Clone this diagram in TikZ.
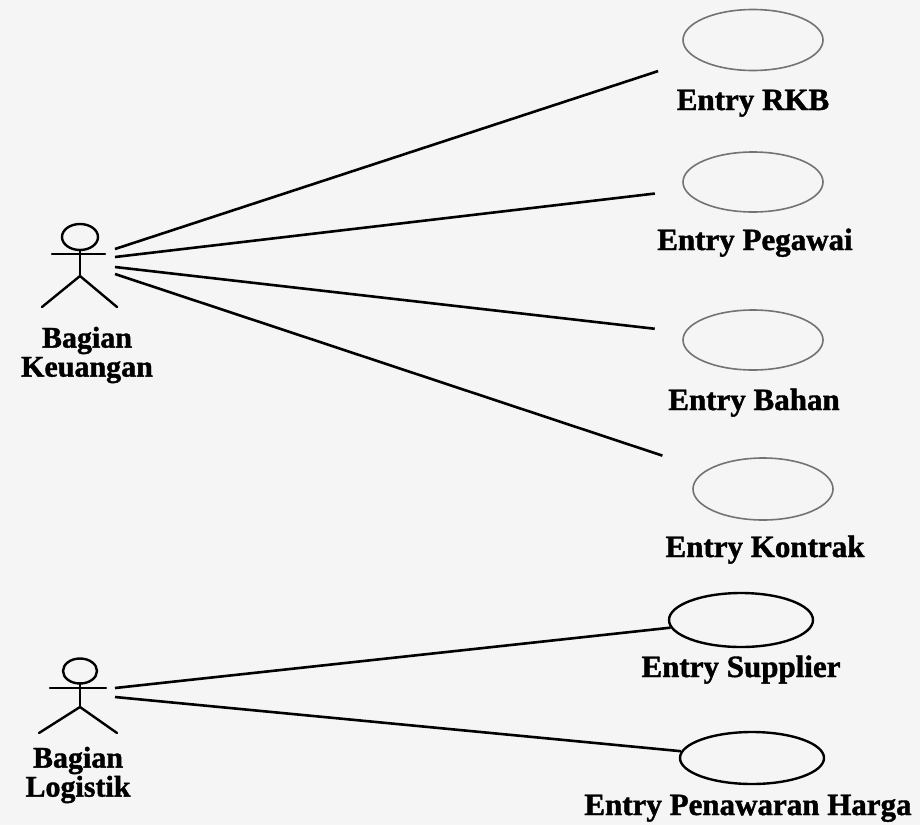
\documentclass[tikz,border=0pt]{standalone}
\usepackage{fontspec}
\setmainfont{Liberation Serif}[BoldFeatures={FakeBold=1.3}]
\usetikzlibrary{shapes.geometric}
\begin{document}
\begin{tikzpicture}[x=1pt,y=-1pt,
  usecase/.style={ellipse, draw=black!55, line width=1.6pt, minimum width=140pt,
    minimum height=60pt, inner sep=0pt},
  usecasedark/.style={usecase, draw=black, line width=2.4pt},
  uclabel/.style={font=\fontsize{31}{34}\selectfont\bfseries, anchor=base, inner sep=0pt},
  actorlabel/.style={font=\fontsize{30}{29}\selectfont\bfseries, align=center, inner sep=0pt},
  stick/.style={line width=2.4pt, line cap=round},
  assoc/.style={line width=2.6pt},
]
\fill[black!4] (0,0) rectangle (920,825);
\useasboundingbox (0,0) rectangle (920,825);

% actor: Bagian Keuangan
\draw[stick] (80,237) ellipse [x radius=18pt, y radius=13pt];
\draw[stick] (52,254) -- (105,254);
\draw[stick] (80,250) -- (80,276);
\draw[stick] (42,307) -- (80,276) -- (117,307);
\node[actorlabel] (keu) at (87,355) {Bagian\\Keuangan};
\coordinate (kr1) at (115,249);
\coordinate (kr2) at (115,257);
\coordinate (kr3) at (115,267);
\coordinate (kr4) at (115,274);

% actor: Bagian Logistik
\draw[stick] (80,671) ellipse [x radius=17pt, y radius=12.5pt];
\draw[stick] (50,688) -- (106,688);
\draw[stick] (80,683) -- (80,707);
\draw[stick] (39,733) -- (80,707) -- (117,733);
\node[actorlabel] (log) at (78,775) {Bagian\\Logistik};
\coordinate (lg1) at (115,688);
\coordinate (lg2) at (115,697);

% use cases
\node[usecase, minimum height=61pt] (rkb) at (753,40) {};
\node[uclabel] (rkbl) at (753,110) {Entry RKB};
\node[usecase] (peg) at (753,182) {};
\node[uclabel] (pegl) at (755,250) {Entry Pegawai};
\node[usecase] (bah) at (753,340) {};
\node[uclabel] (bahl) at (754,410) {Entry Bahan};
\node[usecase, minimum height=62pt] (kon) at (763,489) {};
\node[uclabel] (konl) at (765,557) {Entry Kontrak};
\node[usecasedark, minimum width=144pt, minimum height=54pt] (sup) at (741,620) {};
\node[uclabel] (supl) at (741,677) {Entry Supplier};
\node[usecasedark, minimum width=144pt, minimum height=52pt] (pen) at (752,758) {};
\node[uclabel] (penl) at (748,815) {Entry Penawaran Harga};

% associations
\draw[assoc, shorten >=40pt] (kr1) -- (rkb);
\draw[assoc, shorten >=30pt] (kr2) -- (peg);
\draw[assoc, shorten >=30pt] (kr3) -- (bah);
\draw[assoc, shorten >=46pt] (kr4) -- (kon);
\draw[assoc] (lg1) -- (sup);
\draw[assoc] (lg2) -- (pen);
\end{tikzpicture}
\end{document}
